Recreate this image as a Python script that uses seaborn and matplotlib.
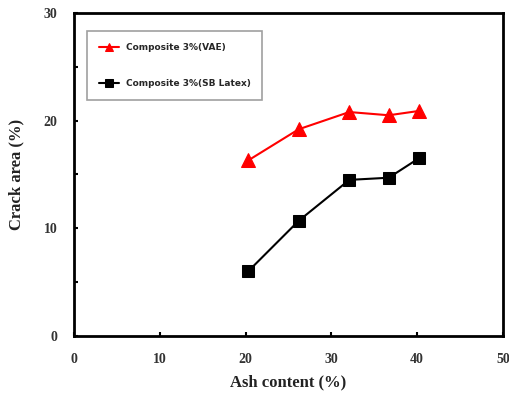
import matplotlib
matplotlib.use("Agg")
import matplotlib.pyplot as plt
import seaborn as sns
import pandas as pd

ash = [20.3, 26.2, 32.1, 36.7, 40.2]
vae = [16.3, 19.2, 20.8, 20.5, 20.9]
sb_latex = [6.0, 10.7, 14.5, 14.7, 16.5]
series_names = ["Composite 3%(VAE)", "Composite 3%(SB Latex)"]

sns.set_style("white")
plt.rcParams['font.family'] = ['Liberation Serif', 'DejaVu Serif']

fig = plt.figure(figsize=(5.1, 3.93), dpi=100)
ax = fig.add_axes([0.145, 0.145, 0.841, 0.822])

sns.lineplot(x=ash, y=vae, ax=ax, color="#ff0000", marker="^", markersize=10,
             markeredgecolor="#ff0000", linewidth=1.5, label=series_names[0])
sns.lineplot(x=ash, y=sb_latex, ax=ax, color="#000000", marker="s", markersize=9,
             markeredgecolor="#000000", linewidth=1.5, label=series_names[1])

ax.set_xlim(0, 50)
ax.set_ylim(0, 30)
ax.set_xticks([0, 10, 20, 30, 40, 50])
ax.set_yticks([0, 10, 20, 30])
ax.set_yticks([5, 15, 25], minor=True)
ax.tick_params(axis='both', which='both', direction='in', length=3, width=1.5,
               labelsize=10, colors='black', pad=12)
ax.tick_params(axis='y', which='both', left=True, right=False)
ax.tick_params(axis='x', which='both', bottom=True, top=False)
for lab in ax.get_xticklabels() + ax.get_yticklabels():
    lab.set_fontweight('bold')
    lab.set_color('#333333')
for s in ax.spines.values():
    s.set_linewidth(2)
    s.set_color('black')

ax.set_xlabel("Ash content (%)", fontsize=12, fontweight='bold', labelpad=6, color='#222222')
ax.set_ylabel("Crack area (%)", fontsize=12, fontweight='bold', labelpad=14, color='#222222')

leg = ax.legend(loc='upper left', bbox_to_anchor=(0.02, 0.958), frameon=True,
                fancybox=False, edgecolor='#888888', handlelength=2.2,
                labelspacing=3.0, borderpad=1.3, prop={'family': 'DejaVu Sans', 'weight': 'bold', 'size': 6.5})
leg.get_frame().set_linewidth(1.2)
for h in leg.legend_handles:
    h.set_markersize(6)

fig.savefig("out.png", dpi=100)
